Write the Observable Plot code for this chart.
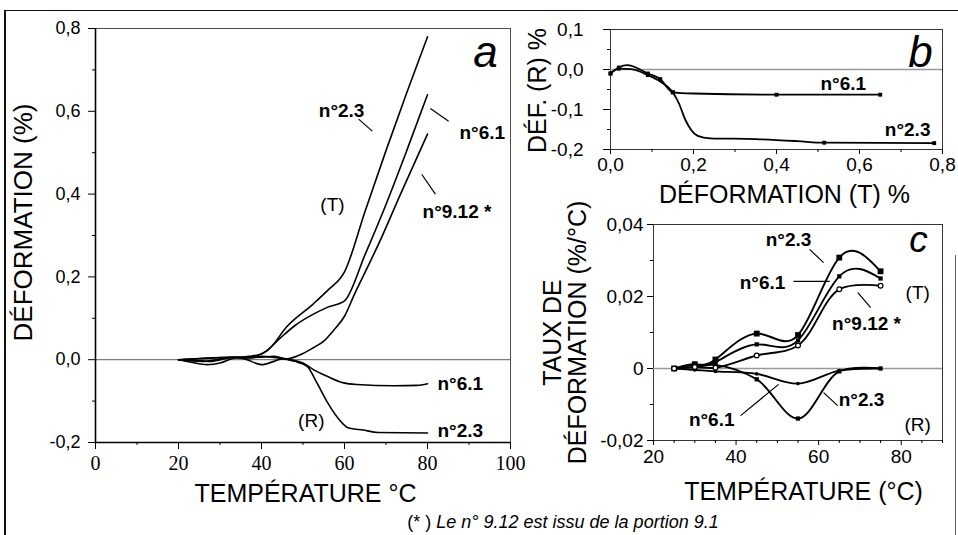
<!DOCTYPE html>
<html><head><meta charset="utf-8">
<script src="https://cdn.jsdelivr.net/npm/d3@7"></script>
<script src="https://cdn.jsdelivr.net/npm/@observablehq/plot@0.6"></script>
<style>
html,body{margin:0;padding:0;background:#fff;}
#fig{position:relative;width:958px;height:535px;overflow:hidden;font-family:"Liberation Sans",Arial,sans-serif;background:#fff;}
#fig .p{position:absolute;}
#fig svg{background:transparent;overflow:visible;}
.ln{position:absolute;background:#111;}
#cap{position:absolute;left:330px;width:466px;top:511px;text-align:center;font-size:18px;line-height:22px;color:#000;}
</style></head>
<body>
<div id="fig">
  <div class="ln" style="left:4px;top:10px;width:2px;height:525px;"></div>
  <div class="ln" style="left:4px;top:10px;width:954px;height:1px;"></div>
  <div class="ln" style="left:955px;top:255px;width:1px;height:280px;background:#666;"></div>
  <div class="p" id="pa" style="left:0;top:0;"></div>
  <div class="p" id="pb" style="left:525px;top:0;"></div>
  <div class="p" id="pc" style="left:525px;top:200px;"></div>
  <div id="cap">(* ) <i>Le n° 9.12 est issu de la portion 9.1</i></div>
</div>
<script>
// ---------------- Panel a : déformation vs température ----------------
const aSeriesNames = ["T n°2.3", "T n°6.1", "T n°9.12", "R n°6.1", "R n°2.3"];
const aT_n23 = [[20,0],[24,-0.002],[28,-0.004],[32,0.004],[37,0.008],[40,0.014],[41.4,0.022],[46.3,0.082],[52.5,0.135],[56,0.168],[60,0.212],[65,0.36],[70,0.505],[75,0.645],[80,0.78]];
const aT_n61 = [[20,0],[26,0.003],[32,0.006],[36,0.006],[39,0.01],[41,0.02],[44.5,0.052],[48,0.082],[52.5,0.11],[56,0.127],[60,0.142],[65,0.255],[70,0.375],[75,0.505],[80,0.64]];
const aT_n912 = [[20,0],[23,-0.006],[27,-0.012],[30,-0.008],[34,0.005],[40,0.006],[43,0.008],[46,0.002],[50,0.015],[52.5,0.029],[55,0.045],[57.3,0.07],[60,0.105],[62.5,0.16],[65,0.212],[68.7,0.29],[73.5,0.4],[80,0.545]];
const aR_n61 = [[20,0],[27,0.004],[33,0.006],[37,0.004],[40,0.008],[44,0.004],[47,0],[50,-0.008],[52.5,-0.024],[55.8,-0.04],[59.8,-0.056],[63,-0.06],[72,-0.063],[77.5,-0.062],[80,-0.058]];
const aR_n23 = [[20,0],[26,-0.004],[33,0.006],[36,0.002],[40,-0.012],[43,-0.004],[45,0.002],[48,-0.004],[51,-0.016],[53.3,-0.055],[56,-0.105],[58.5,-0.142],[61,-0.165],[64.6,-0.17],[68,-0.176],[80,-0.177]];
const aXTicks = [0, 20, 40, 60, 80, 100];
const aXTickLabels = ["0", "20", "40", "60", "80", "100"];
const aXMinor = [10, 30, 50, 70, 90];
const aYTicks = [-0.2, 0, 0.2, 0.4, 0.6, 0.8];
const aYTickLabels = ["-0,2", "0,0", "0,2", "0,4", "0,6", "0,8"];
const aYMinor = [-0.1, 0.1, 0.3, 0.5, 0.7];
const aLabelsMid = [{t: "n°2.3", x: 59.3, y: 0.6}];
const aLabelsStart = [{t: "n°6.1", x: 87.7, y: 0.549}, {t: "n°9.12 *", x: 78.8, y: 0.357}, {t: "n°6.1", x: 82.4, y: -0.058}, {t: "n°2.3", x: 82.4, y: -0.173}];
const aLabelsPlain = [{t: "(T)", x: 57.1, y: 0.373}, {t: "(R)", x: 52.0, y: -0.147}];
const aLeaders = [{x1: 63.4, y1: 0.581, x2: 66.7, y2: 0.552}, {x1: 80.7, y1: 0.607, x2: 85.1, y2: 0.576}, {x1: 78.6, y1: 0.448, x2: 81.9, y2: 0.40}];

// ---------------- Panel b : DÉF. (R) vs DÉFORMATION (T) ----------------
const bSeriesNames = ["n°6.1", "n°2.3"];
const b_n61 = [[0,-0.01],[0.02,0.005],[0.04,0.011],[0.09,-0.01],[0.12,-0.024],[0.15,-0.057],[0.2,-0.06],[0.40,-0.063],[0.65,-0.063]];
const b_n61_marked = [0, 0.02, 0.09, 0.12, 0.15, 0.40, 0.65];
const b_n23 = [[0,-0.01],[0.02,0.002],[0.05,0.001],[0.09,-0.014],[0.12,-0.03],[0.15,-0.057],[0.165,-0.085],[0.18,-0.125],[0.195,-0.152],[0.21,-0.166],[0.24,-0.172],[0.35,-0.174],[0.45,-0.179],[0.515,-0.183],[0.78,-0.184]];
const b_n23_marked = [0, 0.02, 0.09, 0.15, 0.515, 0.78];
const bXTicks = [0, 0.2, 0.4, 0.6, 0.8];
const bXTickLabels = ["0,0", "0,2", "0,4", "0,6", "0,8"];
const bXMinor = [0.1, 0.3, 0.5, 0.7];
const bYTicks = [-0.2, -0.1, 0, 0.1];
const bYTickLabels = ["-0,2", "-0,1", "0,0", "0,1"];
const bYMinor = [-0.15, -0.05, 0.05];
const bLabels = [{t: "n°6.1", x: 0.561, y: -0.035}, {t: "n°2.3", x: 0.716, y: -0.152}];

// ---------------- Panel c : taux de déformation vs température ----------------
const cTemp = [25, 30, 35, 45, 55, 65, 75];
const cT_n23 = [0, 0.0012, 0.0025, 0.0097, 0.0093, 0.0308, 0.027];
const cT_n61 = [0, 0.001, 0.0018, 0.0067, 0.0078, 0.0256, 0.025];
const cT_n912 = [0, 0.0004, 0.0002, 0.0036, 0.0064, 0.0220, 0.023];
const cR_n61 = [0, -0.0004, -0.0008, -0.0015, -0.0042, -0.0006, 0];
const cR_n23 = [0, 0.0004, 0.001, -0.003, -0.0139, -0.0008, 0];
const cXTicks = [20, 40, 60, 80];
const cXTickLabels = ["20", "40", "60", "80"];
const cXMinor = [25, 30, 35, 45, 50, 55, 65, 70, 75, 85, 90];
const cYTicks = [-0.02, 0, 0.02, 0.04];
const cYTickLabels = ["-0,02", "0", "0,02", "0,04"];
const cYMinor = [-0.01, 0.01, 0.03];
const cLabelsBold = [{t: "n°2.3", x: 52.7, y: 0.0356}, {t: "n°6.1", x: 46.4, y: 0.0239}, {t: "n°9.12 *", x: 71.6, y: 0.0125}, {t: "n°2.3", x: 70.4, y: -0.0086}, {t: "n°6.1", x: 34.1, y: -0.0144}];
const cLabelsPlain = [{t: "(T)", x: 84.0, y: 0.0211}, {t: "(R)", x: 84.0, y: -0.0156}];
const cLeaders = [{x1: 57.8, y1: 0.0331, x2: 61.2, y2: 0.0294}, {x1: 53.9, y1: 0.0242, x2: 62.7, y2: 0.0242}, {x1: 69.5, y1: 0.0211, x2: 72.6, y2: 0.0169}, {x1: 61.2, y1: -0.0067, x2: 64.6, y2: -0.0103}, {x1: 41.1, y1: -0.0131, x2: 50.3, y2: -0.0044}];

// ---------------- helpers ----------------
const SANS = "'Liberation Sans', Arial, Helvetica, sans-serif";
const lookup = (ticks, labels) => d => labels[ticks.indexOf(d)];
const blank = () => "";
const pairs = (name, arr) => arr.map(([x, y]) => ({s: name, x, y}));

// ---------------- Plot a ----------------
const aData = [aT_n23, aT_n61, aT_n912, aR_n61, aR_n23].flatMap((arr, i) => pairs(aSeriesNames[i], arr));
const plotA = Plot.plot({
  width: 525, height: 512,
  marginLeft: 95, marginRight: 15, marginTop: 28, marginBottom: 70,
  x: {domain: [0, 100]}, y: {domain: [-0.2, 0.8]},
  style: {fontFamily: SANS, fontSize: "18px", color: "#000", background: "transparent", overflow: "visible"},
  marks: [
    Plot.frame({stroke: "#222", strokeWidth: 0.8}),
    Plot.ruleY([0], {stroke: "#333", strokeWidth: 0.8}),
    Plot.ruleX([0], {stroke: "#000", strokeWidth: 1.6}),
    Plot.ruleY([-0.2], {stroke: "#000", strokeWidth: 1.6}),
    Plot.axisY(aYTicks, {tickSize: 7, tickPadding: 8, tickFormat: lookup(aYTicks, aYTickLabels), label: null, fontSize: 18}),
    Plot.axisY(aYMinor, {tickSize: 3, tickFormat: blank, label: null}),
    Plot.axisX(aXTicks, {tickSize: 7, tickPadding: 6, tickFormat: lookup(aXTicks, aXTickLabels), label: null, fontFamily: "'Liberation Serif', 'Times New Roman', serif", fontSize: 20}),
    Plot.axisX(aXMinor, {tickSize: 3, tickFormat: blank, label: null}),
    Plot.line(aData, {x: "x", y: "y", z: "s", curve: "monotone-x", stroke: "#000", strokeWidth: 1.6}),
    Plot.link(aLeaders, {x1: "x1", y1: "y1", x2: "x2", y2: "y2", stroke: "#000", strokeWidth: 1.2}),
    Plot.text(aLabelsMid, {x: "x", y: "y", text: "t", fontWeight: "bold", fontSize: 19, textAnchor: "middle"}),
    Plot.text(aLabelsStart, {x: "x", y: "y", text: "t", fontWeight: "bold", fontSize: 19, textAnchor: "start"}),
    Plot.text(aLabelsPlain, {x: "x", y: "y", text: "t", fontSize: 19, textAnchor: "middle"}),
    Plot.text(["a"], {frameAnchor: "top-right", textAnchor: "middle", lineAnchor: "middle", dx: -25, dy: 24, fontSize: 44, fontStyle: "italic"}),
    Plot.text(["DÉFORMATION (%)"], {frameAnchor: "left", textAnchor: "middle", lineAnchor: "middle", rotate: -90, dx: -72, dy: -13, fontSize: 26}),
    Plot.text(["TEMPÉRATURE °C"], {frameAnchor: "bottom", textAnchor: "middle", lineAnchor: "middle", dx: 2.5, dy: 51, fontSize: 25})
  ]
});
document.getElementById("pa").appendChild(plotA);

// ---------------- Plot b ----------------
const bLineData = [...pairs(bSeriesNames[0], b_n61), ...pairs(bSeriesNames[1], b_n23)];
const bDotData = [
  ...pairs(bSeriesNames[0], b_n61).filter(d => b_n61_marked.includes(d.x)),
  ...pairs(bSeriesNames[1], b_n23).filter(d => b_n23_marked.includes(d.x))
];
const plotB = Plot.plot({
  width: 433, height: 200,
  marginLeft: 85, marginRight: 16, marginTop: 29, marginBottom: 51,
  x: {domain: [0, 0.8]}, y: {domain: [-0.2, 0.1]},
  style: {fontFamily: SANS, fontSize: "19px", color: "#000", background: "transparent", overflow: "visible"},
  marks: [
    Plot.frame({stroke: "#222", strokeWidth: 0.9}),
    Plot.ruleY([0], {stroke: "#999", strokeWidth: 1.5}),
    Plot.axisY(bYTicks, {tickSize: 7, tickPadding: 20, tickFormat: lookup(bYTicks, bYTickLabels), label: null}),
    Plot.axisY(bYMinor, {tickSize: 3, tickFormat: blank, label: null}),
    Plot.axisX(bXTicks, {tickSize: 5, tickPadding: 3, tickFormat: lookup(bXTicks, bXTickLabels), label: null}),
    Plot.axisX(bXMinor, {tickSize: 3, tickFormat: blank, label: null}),
    Plot.line(bLineData, {x: "x", y: "y", z: "s", curve: "monotone-x", stroke: "#000", strokeWidth: 1.8}),
    Plot.dot(bDotData, {x: "x", y: "y", symbol: "square", r: 2.2, fill: "#000"}),
    Plot.text(bLabels, {x: "x", y: "y", text: "t", fontWeight: "bold", fontSize: 19}),
    Plot.text(["b"], {frameAnchor: "top-right", textAnchor: "middle", lineAnchor: "middle", dx: -22, dy: 23, fontSize: 44, fontStyle: "italic"}),
    Plot.text(["DÉF. (R) %"], {frameAnchor: "left", textAnchor: "middle", lineAnchor: "middle", rotate: -90, dx: -73, dy: 1, fontSize: 25}),
    Plot.text(["DÉFORMATION (T) %"], {frameAnchor: "bottom", textAnchor: "middle", lineAnchor: "middle", dx: 8, dy: 45, fontSize: 25})
  ]
});
document.getElementById("pb").appendChild(plotB);

// ---------------- Plot c ----------------
const cSeries = [["T n°2.3", cT_n23], ["T n°6.1", cT_n61], ["T n°9.12", cT_n912], ["R n°6.1", cR_n61], ["R n°2.3", cR_n23]];
const cData = cSeries.flatMap(([s, vals]) => vals.map((v, i) => ({s, x: cTemp[i], y: v})));
const cPeaked = d => d.s === "T n°2.3" || d.s === "T n°6.1";
const plotC = Plot.plot({
  width: 433, height: 312,
  marginLeft: 128, marginRight: 16, marginTop: 24, marginBottom: 72,
  x: {domain: [20, 90]}, y: {domain: [-0.02, 0.04]},
  style: {fontFamily: SANS, fontSize: "19px", color: "#000", background: "transparent", overflow: "visible"},
  marks: [
    Plot.frame({stroke: "#222", strokeWidth: 0.9}),
    Plot.ruleY([0], {stroke: "#999", strokeWidth: 1.6}),
    Plot.axisY(cYTicks, {tickSize: 6, tickPadding: 4, tickFormat: lookup(cYTicks, cYTickLabels), label: null}),
    Plot.axisY(cYMinor, {tickSize: 3, tickFormat: blank, label: null}),
    Plot.axisX(cXTicks, {tickSize: 5, tickPadding: 4, tickFormat: lookup(cXTicks, cXTickLabels), label: null}),
    Plot.axisX(cXMinor, {tickSize: 3, tickFormat: blank, label: null}),
    Plot.line(cData.filter(cPeaked), {x: "x", y: "y", z: "s", curve: "natural", stroke: "#000", strokeWidth: 1.9}),
    Plot.line(cData.filter(d => !cPeaked(d)), {x: "x", y: "y", z: "s", curve: "catmull-rom", stroke: "#000", strokeWidth: 1.9}),
    Plot.dot(cData.filter(d => d.s === "T n°2.3"), {x: "x", y: "y", symbol: "square", r: 3.3, fill: "#000"}),
    Plot.dot(cData.filter(d => d.s === "T n°6.1" || d.s === "R n°2.3"), {x: "x", y: "y", symbol: "square", r: 2.4, fill: "#000"}),
    Plot.dot(cData.filter(d => d.s === "R n°6.1"), {x: "x", y: "y", r: 1.8, fill: "#000"}),
    Plot.dot(cData.filter(d => d.s === "T n°9.12"), {x: "x", y: "y", r: 2.4, fill: "#fff", stroke: "#000", strokeWidth: 1.2}),
    Plot.link(cLeaders, {x1: "x1", y1: "y1", x2: "x2", y2: "y2", stroke: "#000", strokeWidth: 1.2}),
    Plot.text(cLabelsBold, {x: "x", y: "y", text: "t", fontWeight: "bold", fontSize: 19}),
    Plot.text(cLabelsPlain, {x: "x", y: "y", text: "t", fontSize: 19}),
    Plot.text(["c"], {frameAnchor: "top-right", textAnchor: "middle", lineAnchor: "middle", dx: -24, dy: 16, fontSize: 37, fontStyle: "italic"}),
    Plot.text(["TAUX DE\nDÉFORMATION (%/°C)"], {frameAnchor: "left", textAnchor: "middle", lineAnchor: "middle", rotate: -90, dx: -88.5, dy: 0, fontSize: 25, lineHeight: 1}),
    Plot.text(["TEMPÉRATURE (°C)"], {frameAnchor: "bottom", textAnchor: "middle", lineAnchor: "middle", dx: 5.5, dy: 51, fontSize: 25})
  ]
});
document.getElementById("pc").appendChild(plotC);
</script>
</body></html>
